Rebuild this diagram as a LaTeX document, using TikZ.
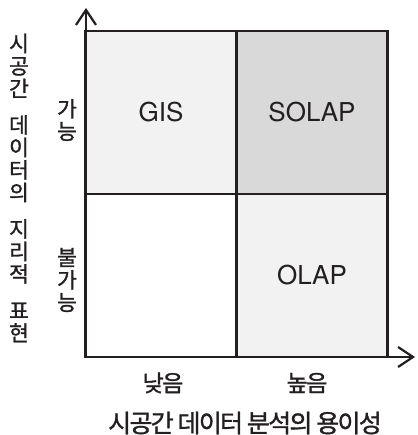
\documentclass[tikz,border=0pt]{standalone}
\usepackage{fontspec}
\setmainfont{Noto Sans CJK KR}[FakeBold=1.2]
\newfontfamily\latinfont{TeX Gyre Heros}
\newfontfamily\tightfont{Noto Sans CJK KR}[FakeBold=1.2, LetterSpace=-7]
\usepackage{tikz}
\usetikzlibrary{arrows.meta, positioning}
\usepackage{xcolor}
\definecolor{inkline}{HTML}{231F20}
\definecolor{paleGray}{HTML}{F2F2F2}
\definecolor{midGray}{HTML}{D9D9D9}

\tikzset{
  cell/.style={draw=inkline, line width=2.2pt, inner sep=0pt,
    minimum width=151pt, minimum height=163pt, text=inkline,
    font=\latinfont\fontsize{26}{28}\selectfont},
  axislabel/.style={text=inkline, font=\fontsize{21.5}{22.5}\selectfont,
    align=center, inner sep=0pt},
  axis/.style={draw=inkline, line width=2.2pt,
    -{Straight Barb[length=15pt, width=20pt, line width=2.2pt]}}
}

\begin{document}
\begin{tikzpicture}[x=1pt, y=1pt]
      \useasboundingbox (0,0) rectangle (417,435);
      % quadrants
      \node[cell, fill=paleGray] (gis) at (161,322.5) {GIS};
      \node[cell, fill=midGray] (solap) at (312,322.5) {SOLAP};
      \node[cell, fill=white] (empty) at (161,159.5) {};
      \node[cell, fill=paleGray] (olap) at (312,159.5) {OLAP};
      % axes
      \coordinate (origin) at (86,78);
      \coordinate (ytip) at (86,427);
      \coordinate (xtip) at (415,78);
      \draw[axis] (origin) -- (ytip);
      \draw[axis] (origin) -- (xtip);
      % labels
      \node[axislabel] (ytitle) at (19,247)
        {시\\공\\간\\[14pt]데\\이\\터\\의\\[14pt]지\\리\\적\\[14pt]표\\현};
      \node[axislabel] (yes) at (67,315) {가\\능};
      \node[axislabel] (no) at (67,155) {불\\가\\능};
      \node[axislabel, font=\tightfont\fontsize{23}{24}\selectfont] (low) at (163,52) {낮음};
      \node[axislabel, font=\tightfont\fontsize{23}{24}\selectfont] (high) at (307,52) {높음};
      \node[axislabel, font=\tightfont\fontsize{25}{24}\selectfont] (xtitle) at (245,12)
        {시공간 데이터 분석의 용이성};
    \end{tikzpicture}
\end{document}
